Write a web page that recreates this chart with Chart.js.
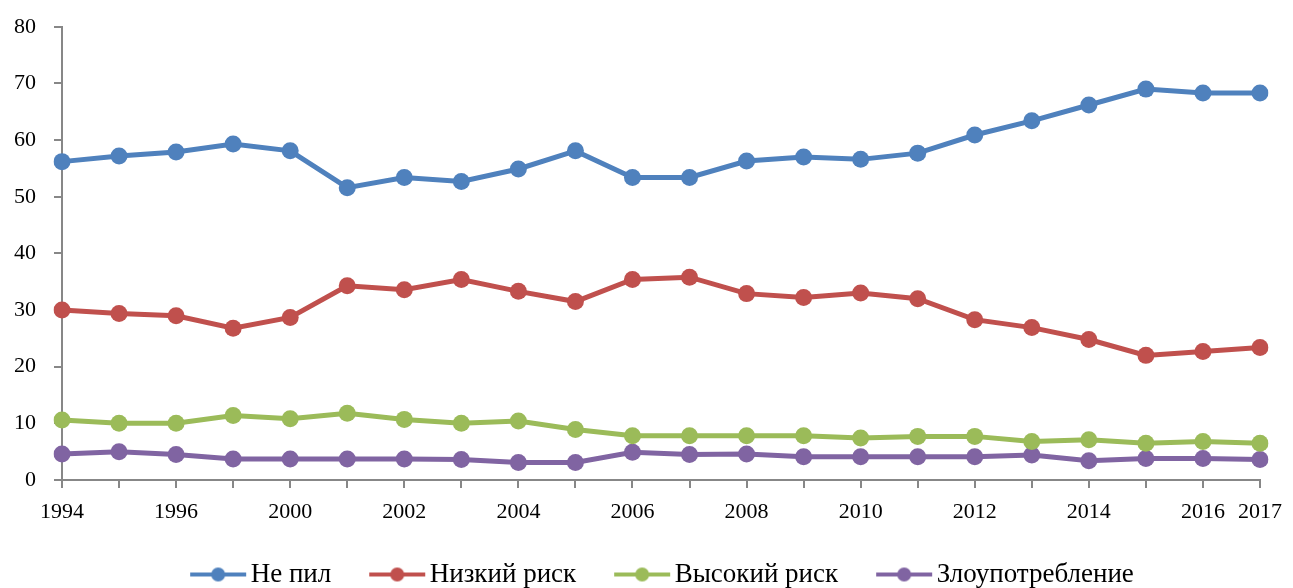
<!DOCTYPE html>
<html>
<head>
<meta charset="utf-8">
<script src="https://cdn.jsdelivr.net/npm/chart.js@4/dist/chart.umd.min.js"></script>
<style>
  html, body { margin: 0; padding: 0; background: #fff; overflow: hidden; }
  #wrap { width: 1293px; height: 598px; }
</style>
</head>
<body>
<div id="wrap"><canvas id="lineChart"></canvas></div>
<script>
// Years on the x axis (1997 and 1999 missing in the survey)
const years = ['1994', '1995', '1996', '1998', '2000', '2001', '2002', '2003', '2004', '2005', '2006',
  '2007', '2008', '2009', '2010', '2011', '2012', '2013', '2014', '2015', '2016', '2017'];

const notDrinking = [56.2, 57.2, 57.9, 59.3, 58.1, 51.6, 53.4, 52.7, 54.9, 58.1, 53.4,
  53.4, 56.3, 57.0, 56.6, 57.7, 60.9, 63.4, 66.2, 69.0, 68.3, 68.3];
const lowRisk = [30.0, 29.4, 29.0, 26.8, 28.7, 34.3, 33.6, 35.4, 33.3, 31.5, 35.4,
  35.8, 32.9, 32.2, 33.0, 32.0, 28.3, 26.9, 24.8, 22.0, 22.7, 23.4];
const highRisk = [10.6, 10.0, 10.0, 11.4, 10.8, 11.8, 10.7, 10.0, 10.4, 8.9, 7.8,
  7.8, 7.8, 7.8, 7.4, 7.7, 7.7, 6.8, 7.1, 6.5, 6.8, 6.5];
const abuse = [4.6, 5.0, 4.5, 3.7, 3.7, 3.7, 3.7, 3.6, 3.1, 3.1, 4.9,
  4.5, 4.6, 4.1, 4.1, 4.1, 4.1, 4.4, 3.4, 3.8, 3.8, 3.6];

const seriesNames = ['Не пил', 'Низкий риск', 'Высокий риск', 'Злоупотребление'];
const seriesColors = ['#4F81BD', '#C0504D', '#9BBB59', '#8064A2'];
const yTicks = [0, 10, 20, 30, 40, 50, 60, 70, 80];

const fontFamily = '"Liberation Serif", "DejaVu Serif", serif';
const axisColor = '#878787';

// line-with-dot legend image; the marker sits at the right end so the
// label text follows it closely
function legendMarker(color) {
  const c = document.createElement('canvas');
  c.width = 69;
  c.height = 18;
  const g = c.getContext('2d');
  g.strokeStyle = color;
  g.lineWidth = 4;
  g.beginPath();
  g.moveTo(12, 9);
  g.lineTo(68, 9);
  g.stroke();
  g.fillStyle = color;
  g.beginPath();
  g.arc(40, 9, 7, 0, Math.PI * 2);
  g.fill();
  return c;
}

const allSeries = [notDrinking, lowRisk, highRisk, abuse];

const ctx = document.getElementById('lineChart').getContext('2d');
new Chart(ctx, {
  type: 'line',
  data: {
    labels: years,
    datasets: allSeries.map((values, i) => ({
      label: seriesNames[i],
      data: values,
      borderColor: seriesColors[i],
      backgroundColor: seriesColors[i],
      borderWidth: 5,
      pointRadius: 8.5,
      pointBorderWidth: 0,
      pointHoverRadius: 8.5,
      tension: 0,
      fill: false
    }))
  },
  options: {
    responsive: true,
    maintainAspectRatio: false,
    animation: false,
    layout: { padding: { left: 0, right: 28, top: 0, bottom: 0 } },
    plugins: {
      tooltip: { enabled: false },
      legend: {
        position: 'bottom',
        fullSize: false,
        labels: {
          color: '#000',
          font: { family: fontFamily, size: 27 },
          usePointStyle: true,
          pointStyleWidth: 49,
          padding: 36,
          generateLabels: (chart) => chart.data.datasets.map((ds, i) => ({
            text: ds.label,
            fillStyle: ds.borderColor,
            strokeStyle: ds.borderColor,
            lineWidth: 0,
            pointStyle: legendMarker(ds.borderColor),
            datasetIndex: i,
            hidden: false
          }))
        }
      }
    },
    scales: {
      x: {
        offset: false,
        afterFit: (scale) => { scale.height = 45; },
        grid: {
          offset: false,
          drawOnChartArea: false,
          drawTicks: true,
          tickLength: 8,
          color: axisColor,
          lineWidth: 2
        },
        border: { color: axisColor, width: 2 },
        ticks: {
          autoSkip: false,
          maxRotation: 0,
          padding: 11,
          color: '#000',
          font: { family: fontFamily, size: 22 },
          callback: (value, index) =>
            (index % 2 === 0 || index === years.length - 1) ? years[index] : ''
        }
      },
      y: {
        min: yTicks[0],
        max: yTicks[yTicks.length - 1],
        afterFit: (scale) => { scale.width = 62; },
        afterBuildTicks: (scale) => { scale.ticks = yTicks.map(v => ({ value: v })); },
        grid: {
          drawOnChartArea: false,
          drawTicks: true,
          tickLength: 8,
          color: axisColor,
          lineWidth: 2
        },
        border: { color: axisColor, width: 2 },
        ticks: {
          padding: 18,
          color: '#000',
          font: { family: fontFamily, size: 22, lineHeight: 0.8 }
        }
      }
    }
  }
});
</script>
</body>
</html>
